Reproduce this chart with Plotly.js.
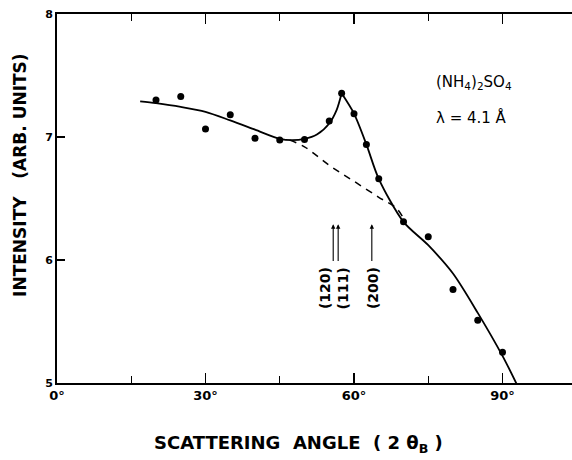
<!DOCTYPE html>
<html>
<head>
<meta charset="utf-8">
<script src="https://cdn.plot.ly/plotly-3.0.1.min.js"></script>
<style>
html,body{margin:0;padding:0;overflow:hidden;background:#fff;}
#chart{width:572px;height:460px;}
</style>
</head>
<body>
<div id="chart"></div>
<script>
// Measured points (scattering angle in degrees, intensity arb. units)
const angles = [20, 25, 30, 35, 40, 45, 50, 55, 57.5, 60, 62.5, 65, 70, 75, 80, 85, 90];
const intensity = [7.30, 7.33, 7.065, 7.18, 6.99, 6.975, 6.98, 7.13, 7.355, 7.19, 6.94, 6.66, 6.31, 6.19, 5.76, 5.51, 5.25];

// Solid guide curve (rising branch up to the peak, falling branch after it)
const fitAnglesRise = [16.8, 20, 25, 30, 35, 40, 45, 47.5, 50, 52.5, 55, 56.5, 57.5];
const fitIntensityRise = [7.29, 7.275, 7.245, 7.205, 7.135, 7.06, 6.985, 6.975, 6.985, 7.02, 7.11, 7.22, 7.355];
const fitAnglesFall = [57.5, 60, 62.5, 65, 70, 75, 80, 85, 90, 93];
const fitIntensityFall = [7.355, 7.19, 6.94, 6.66, 6.31, 6.12, 5.89, 5.57, 5.22, 4.98];

// Dashed background curve
const bgAngles = [47, 50, 55, 60, 65, 68.6, 70.5];
const bgIntensity = [6.975, 6.92, 6.77, 6.64, 6.51, 6.42, 6.30];

// Reflection markers
const reflLabels = ['(120)', '(111)', '(200)'];
const reflAngles = [55.8, 56.8, 63.6];
const reflLabelAngles = [54.1, 57.8, 63.8];

// Axis ticks
const xTickVals = [0, 30, 60, 90];
const xTickText = ['0°', '30°', '60°', '90°'];
const xMinorVals = [15, 45, 75];
const yTickVals = [5, 6, 7, 8];

const fontFam = '"DejaVu Sans", "Liberation Sans", Arial, sans-serif';

const traces = [
  {x: fitAnglesRise, y: fitIntensityRise, mode: 'lines', line: {color: '#000', width: 1.8, shape: 'spline', smoothing: 0.8}, hoverinfo: 'skip'},
  {x: fitAnglesFall, y: fitIntensityFall, mode: 'lines', line: {color: '#000', width: 1.8, shape: 'spline', smoothing: 0.8}, hoverinfo: 'skip'},
  {x: bgAngles, y: bgIntensity, mode: 'lines', line: {color: '#000', width: 1.5, dash: '7px,6px', shape: 'spline'}, hoverinfo: 'skip'},
  {x: angles, y: intensity, mode: 'markers', marker: {color: '#000', size: 7}},
  {x: angles, y: intensity, xaxis: 'x2', mode: 'markers', marker: {color: 'rgba(0,0,0,0)', size: 1}, hoverinfo: 'skip'}
];

const annotations = [];
reflAngles.forEach((a, i) => {
  annotations.push({
    x: a, y: 6.29, xref: 'x', yref: 'y',
    ax: a, ay: 5.98, axref: 'x', ayref: 'y',
    text: '', showarrow: true, arrowhead: 2, arrowsize: 0.8, arrowwidth: 1.1, arrowcolor: '#000'
  });
  annotations.push({
    x: reflLabelAngles[i], y: 5.77, xref: 'x', yref: 'y',
    text: '<b>' + reflLabels[i] + '</b>', showarrow: false, textangle: -90,
    xanchor: 'center', yanchor: 'middle',
    font: {family: fontFam, size: 14, color: '#000'}
  });
});

annotations.push(
  {x: 84.2, y: 7.44, xref: 'x', yref: 'y', showarrow: false,
   text: '(NH<sub>4</sub>)<sub>2</sub>SO<sub>4</sub>', font: {family: fontFam, size: 15, color: '#000'}},
  {x: 83.8, y: 7.155, xref: 'x', yref: 'y', showarrow: false,
   text: 'λ = 4.1 Å', font: {family: fontFam, size: 15, color: '#000'}},
  {x: -0.0718, y: 0.564, xref: 'paper', yref: 'paper', showarrow: false, textangle: -90,
   xanchor: 'center', yanchor: 'middle',
   text: '<b>INTENSITY   (ARB. UNITS)</b>', font: {family: fontFam, size: 17, color: '#000'}},
  {x: 0.468, y: -0.165, xref: 'paper', yref: 'paper', showarrow: false,
   xanchor: 'center', yanchor: 'middle',
   text: '<b>SCATTERING  ANGLE  ( 2 θ<sub>B</sub> )</b>', font: {family: fontFam, size: 18, color: '#000'}}
);

const xRange = [0, 104.04];

const layout = {
  width: 572, height: 460,
  margin: {l: 57, r: 0, t: 14, b: 77},
  paper_bgcolor: '#fff', plot_bgcolor: '#fff',
  showlegend: false,
  xaxis: {
    range: xRange, showgrid: false, zeroline: false,
    showline: true, linecolor: '#000', linewidth: 1.8, mirror: false,
    tickmode: 'array', tickvals: xTickVals, ticktext: xTickText,
    ticks: 'inside', ticklen: 10, tickwidth: 1.3, tickcolor: '#000',
    minor: {tickmode: 'array', tickvals: xMinorVals, ticks: 'inside', ticklen: 7, tickwidth: 1.2, tickcolor: '#000'},
    tickfont: {family: fontFam, size: 13, color: '#000', weight: 'bold'}
  },
  xaxis2: {
    overlaying: 'x', side: 'top', anchor: 'y',
    range: xRange, showgrid: false, zeroline: false,
    showline: true, linecolor: '#000', linewidth: 1.8,
    tickmode: 'array', tickvals: xTickVals, showticklabels: false,
    ticks: 'inside', ticklen: 10, tickwidth: 1.3, tickcolor: '#000',
    minor: {tickmode: 'array', tickvals: xMinorVals, ticks: 'inside', ticklen: 7, tickwidth: 1.2, tickcolor: '#000'}
  },
  yaxis: {
    range: [5, 8], showgrid: false, zeroline: false,
    showline: true, linecolor: '#000', linewidth: 1.8, mirror: false,
    tickmode: 'array', tickvals: yTickVals,
    ticks: 'inside', ticklen: 8, tickwidth: 1.3, tickcolor: '#000',
    tickfont: {family: fontFam, size: 11, color: '#000', weight: 'bold'}
  },
  annotations: annotations
};

Plotly.newPlot('chart', traces, layout, {displayModeBar: false, staticPlot: true});
</script>
</body>
</html>
